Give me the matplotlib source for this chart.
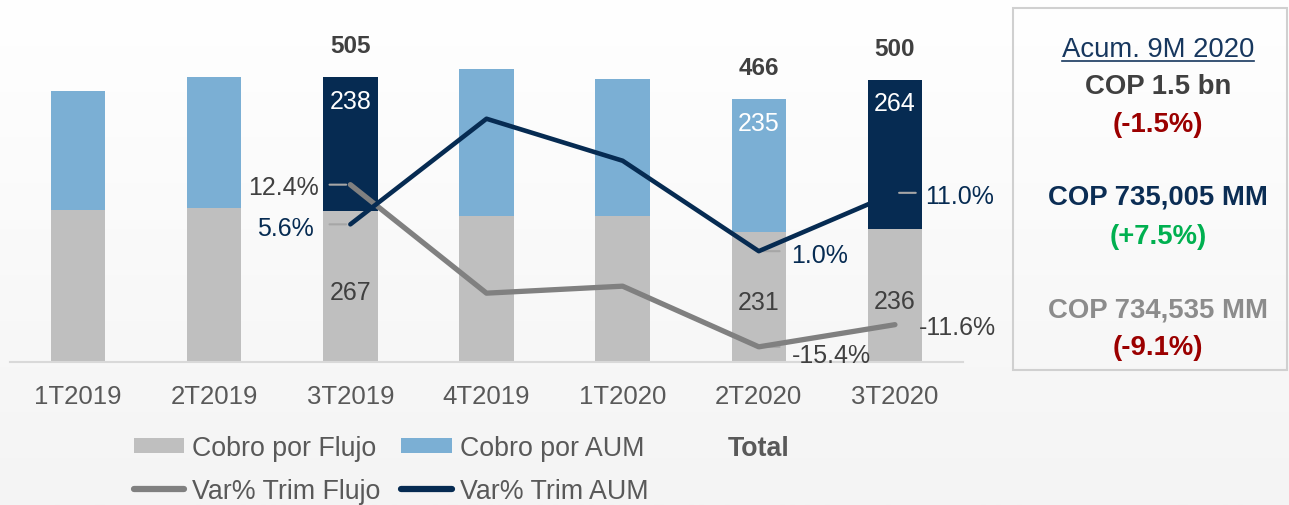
import numpy as np
import matplotlib.pyplot as plt
from matplotlib.patches import Patch, Rectangle
from matplotlib.lines import Line2D
from matplotlib.colors import LinearSegmentedColormap

plt.rcParams['font.family'] = ['Liberation Sans', 'DejaVu Sans']

# datos
periodos = ['1T2019', '2T2019', '3T2019', '4T2019', '1T2020', '2T2020', '3T2020']
cobro_flujo = [270, 273, 267, 259, 259, 231, 236]
cobro_aum = [210, 232, 238, 260, 243, 235, 264]
var_flujo = [np.nan, np.nan, 12.4, -6.2, -5.0, -15.4, -11.6]
var_aum = [np.nan, np.nan, 5.6, 23.7, 16.5, 1.0, 11.0]
con_etiqueta = [False, False, True, False, False, True, True]
destacado = [False, False, True, False, False, False, True]
# etiquetas de variacion: (indice, serie, texto)
etiquetas_var = [(2, 'flujo', '12.4%'), (2, 'aum', '5.6%'), (5, 'aum', '1.0%'),
                 (5, 'flujo', '-15.4%'), (6, 'aum', '11.0%'), (6, 'flujo', '-11.6%')]
# desplazamiento de cada etiqueta en puntos
desp_var = [(-23, -1.5), (-26, -3), (23, -3), (24, -6), (21.5, -2), (17, -1.5)]
guia = [True, True, True, True, True, False]

GRIS = '#bfbfbf'
AZUL_CLARO = '#7bafd4'
AZUL = '#062b52'
GRIS_LINEA = '#808080'
TEXTO = '#404040'

W, H = 1289, 506
fig = plt.figure(figsize=(W / 100, H / 100), dpi=100)

# fondo degradado
bg = fig.add_axes([0, 0, 1, 1], zorder=-10)
grad = np.linspace(1, 0, 256).reshape(-1, 1)
bg.imshow(grad, aspect='auto', extent=[0, 1, 0, 1],
          cmap=LinearSegmentedColormap.from_list('g', ['#f4f4f4', '#ffffff']))
bg.axis('off')

ax = fig.add_axes([10 / W, 1 - 363 / H, 953 / W, 350 / H])
ax.patch.set_alpha(0)
x = np.arange(len(periodos))
ax.bar(x, cobro_flujo, 0.4, color=GRIS)
ax.bar(x, cobro_aum, 0.4, bottom=cobro_flujo,
       color=[AZUL if d else AZUL_CLARO for d in destacado])
ax.set_xlim(-0.5, 6.5)
ax.set_ylim(0, 620)
for s in ['top', 'left', 'right']:
    ax.spines[s].set_visible(False)
ax.spines['bottom'].set_color('#d9d9d9')
ax.spines['bottom'].set_linewidth(1.5)
ax.set_yticks([])
ax.set_xticks(x)
ax.set_xticklabels(periodos)
ax.tick_params(axis='x', length=0, pad=16, labelsize=18.5, labelcolor='#595959')

for i in range(len(periodos)):
    if not con_etiqueta[i]:
        continue
    total = cobro_flujo[i] + cobro_aum[i]
    ax.text(i, cobro_flujo[i] / 2 - 10, str(cobro_flujo[i]), ha='center', va='center',
            color=TEXTO, fontsize=18)
    ax.text(i, total - 42, str(cobro_aum[i]), ha='center', va='center',
            color='white', fontsize=18)
    ax.text(i, total + 55, str(total), ha='center', va='center',
            color=TEXTO, fontsize=17.5, fontweight='bold')

ax2 = ax.twinx()
ax2.set_ylim(-18, 42)
ax2.axis('off')

for (i, serie, txt), (dx, dy), g in zip(etiquetas_var, desp_var, guia):
    v = var_flujo[i] if serie == 'flujo' else var_aum[i]
    col = TEXTO if serie == 'flujo' else AZUL
    sgn = -1 if dx < 0 else 1
    if g:
        ax2.annotate('', xy=(i, v), xytext=(sgn * 15, 0), textcoords='offset points',
                     arrowprops=dict(arrowstyle='-', color='#a6a6a6', lw=1.5,
                                     shrinkA=0, shrinkB=3), zorder=2)
    ax2.annotate(txt, xy=(i, v), xytext=(dx, dy), textcoords='offset points',
                 ha='right' if dx < 0 else 'left', va='center', color=col,
                 fontsize=18, zorder=5)

ax2.plot(x, var_flujo, color=GRIS_LINEA, lw=3.8, solid_capstyle='round', zorder=3)
ax2.plot(x, var_aum, color=AZUL, lw=3.3, solid_capstyle='round', zorder=4)

# leyenda
handles = [Patch(facecolor=GRIS), Line2D([], [], color=GRIS_LINEA, lw=4.5, solid_capstyle='round'),
           Patch(facecolor=AZUL_CLARO), Line2D([], [], color=AZUL, lw=4.5, solid_capstyle='round'),
           Patch(facecolor='none', edgecolor='none')]
labels = ['Cobro por Flujo', 'Var% Trim Flujo', 'Cobro por AUM', 'Var% Trim AUM', 'Total']
leg = fig.legend(handles, labels, ncol=3, frameon=False, loc='upper left',
                 bbox_to_anchor=(134 / W, 1 - 436 / H), fontsize=19.3,
                 handlelength=1.87, handleheight=0.52, handletextpad=0.3,
                 columnspacing=0.78, labelspacing=0.62, borderpad=0, borderaxespad=0)
for t in leg.get_texts():
    t.set_color('#595959')
leg.get_texts()[4].set_fontweight('bold')

# recuadro derecho
fig.patches.append(Rectangle((1013 / W, 1 - 371 / H), 274 / W, 362 / H,
                             transform=fig.transFigure, facecolor='none',
                             edgecolor='#d0d0d0', lw=1.5))
cx = 1158 / W
titulo = fig.text(cx, 1 - 50 / H, 'Acum. 9M 2020', ha='center', va='center',
                  fontsize=19.8, color='#17375e')
resumen = [('COP 1.5 bn', TEXTO, 87), ('(-1.5%)', '#9b0000', 125),
           ('COP 735,005 MM', '#0b2d54', 198), ('(+7.5%)', '#00b050', 237),
           ('COP 734,535 MM', '#8c8c8c', 310), ('(-9.1%)', '#9b0000', 348)]
for txt, col, yy in resumen:
    fig.text(cx, 1 - yy / H, txt, ha='center', va='center', fontsize=19.8,
             color=col, fontweight='bold')

fig.canvas.draw()
bb = titulo.get_window_extent().transformed(fig.transFigure.inverted())
fig.add_artist(Line2D([bb.x0, bb.x1], [bb.y0 + 0.002, bb.y0 + 0.002], color='#17375e',
                      lw=1.2, transform=fig.transFigure))

fig.savefig('out.png', dpi=100)
